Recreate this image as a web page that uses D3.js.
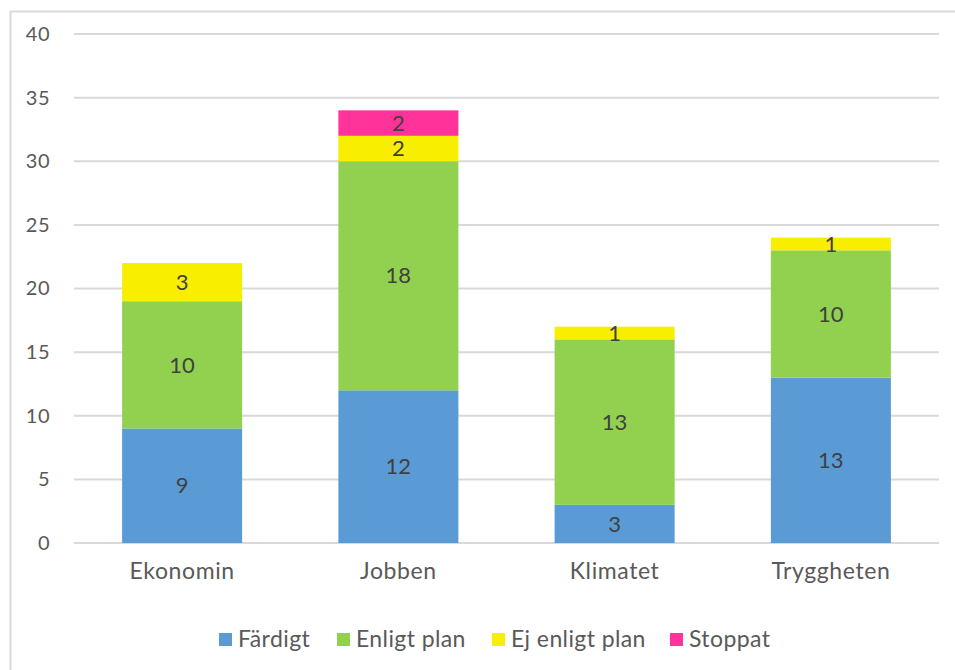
<!DOCTYPE html>
<html>
<head>
<meta charset="utf-8">
<script src="https://cdn.jsdelivr.net/npm/d3@7"></script>
<style>
  body { margin: 0; background: #fff; }
  svg { display: block; font-family: Lato, "Open Sans", sans-serif; }
</style>
</head>
<body>
<svg id="chart" width="955" height="670"></svg>
<script>
// Data
const categories = ['Ekonomin', 'Jobben', 'Klimatet', 'Tryggheten'];
const seriesNames = ['Färdigt', 'Enligt plan', 'Ej enligt plan', 'Stoppat'];
const fardigt = [9, 12, 3, 13];
const enligtPlan = [10, 18, 13, 10];
const ejEnligtPlan = [3, 2, 1, 1];
const stoppat = [0, 2, 0, 0];
const yTicks = [0, 5, 10, 15, 20, 25, 30, 35, 40];

const colors = ['#5B9BD5', '#92D050', '#F7EE00', '#FF3399'];
const seriesValues = [fardigt, enligtPlan, ejEnligtPlan, stoppat];

const svg = d3.select('#chart');

// outer frame
svg.append('rect')
    .attr('x', 10.5).attr('y', 11.5)
    .attr('width', 960).attr('height', 680)
    .attr('fill', 'none')
    .attr('stroke', '#d9d9d9')
    .attr('stroke-width', 2);

const margin = {left: 74, right: 16, top: 34, bottom: 127};
const width = 955 - margin.left - margin.right;
const height = 670 - margin.top - margin.bottom;

const g = svg.append('g').attr('transform', `translate(${margin.left},${margin.top})`);

const x = d3.scaleBand().domain(categories).range([0, width]).paddingInner(0.445).paddingOuter(0.2225);
const y = d3.scaleLinear().domain([0, 40]).range([height, 0]);

// gridlines
g.selectAll('.grid')
    .data(yTicks)
    .enter().append('line')
    .attr('x1', 0).attr('x2', width)
    .attr('y1', d => y(d)).attr('y2', d => y(d))
    .attr('stroke', '#d9d9d9')
    .attr('stroke-width', 2);

// y axis labels
const yAxis = g.append('g')
    .call(d3.axisLeft(y).tickValues(yTicks).tickSize(0).tickPadding(24));
yAxis.select('.domain').remove();
yAxis.selectAll('text')
    .attr('fill', '#595959')
    .style('font-size', '20px')
    .style('letter-spacing', '0.5px')
    .style('font-family', 'Lato, "Open Sans", sans-serif');

// x axis labels
const xAxis = g.append('g')
    .attr('transform', `translate(0,${height})`)
    .call(d3.axisBottom(x).tickSize(0).tickPadding(20));
xAxis.select('.domain').remove();
xAxis.selectAll('text')
    .attr('fill', '#595959')
    .style('font-size', '23px')
    .style('letter-spacing', '0.6px')
    .style('font-family', 'Lato, "Open Sans", sans-serif');

// stacked data
const rows = categories.map((c, i) => {
    const r = {cat: c};
    seriesNames.forEach((s, j) => { r[s] = seriesValues[j][i]; });
    return r;
});
const stacked = d3.stack().keys(seriesNames)(rows);

stacked.forEach((layer, j) => {
    const lg = g.append('g').attr('fill', colors[j]);
    layer.forEach(d => {
        const v = d[1] - d[0];
        if (v <= 0) return;
        lg.append('rect')
            .attr('x', x(d.data.cat))
            .attr('y', y(d[1]))
            .attr('width', x.bandwidth())
            .attr('height', y(d[0]) - y(d[1]));
        g.append('text')
            .attr('x', x(d.data.cat) + x.bandwidth() / 2)
            .attr('y', (y(d[0]) + y(d[1])) / 2)
            .attr('dy', '0.35em')
            .attr('text-anchor', 'middle')
            .attr('fill', '#404040')
            .style('font-size', '22px')
            .text(v);
    });
});

// legend
const legendItems = [
    {name: 'Färdigt', x: 219},
    {name: 'Enligt plan', x: 337},
    {name: 'Ej enligt plan', x: 492},
    {name: 'Stoppat', x: 670}
];
const legend = svg.append('g');
legendItems.forEach((it, i) => {
    legend.append('rect')
        .attr('x', it.x).attr('y', 633)
        .attr('width', 13).attr('height', 13)
        .attr('fill', colors[i]);
    legend.append('text')
        .attr('x', it.x + 19).attr('y', 639)
        .attr('dy', '0.35em')
        .attr('fill', '#595959')
        .style('font-size', '23px')
        .style('letter-spacing', '0.4px')
        .text(it.name);
});
</script>
</body>
</html>
